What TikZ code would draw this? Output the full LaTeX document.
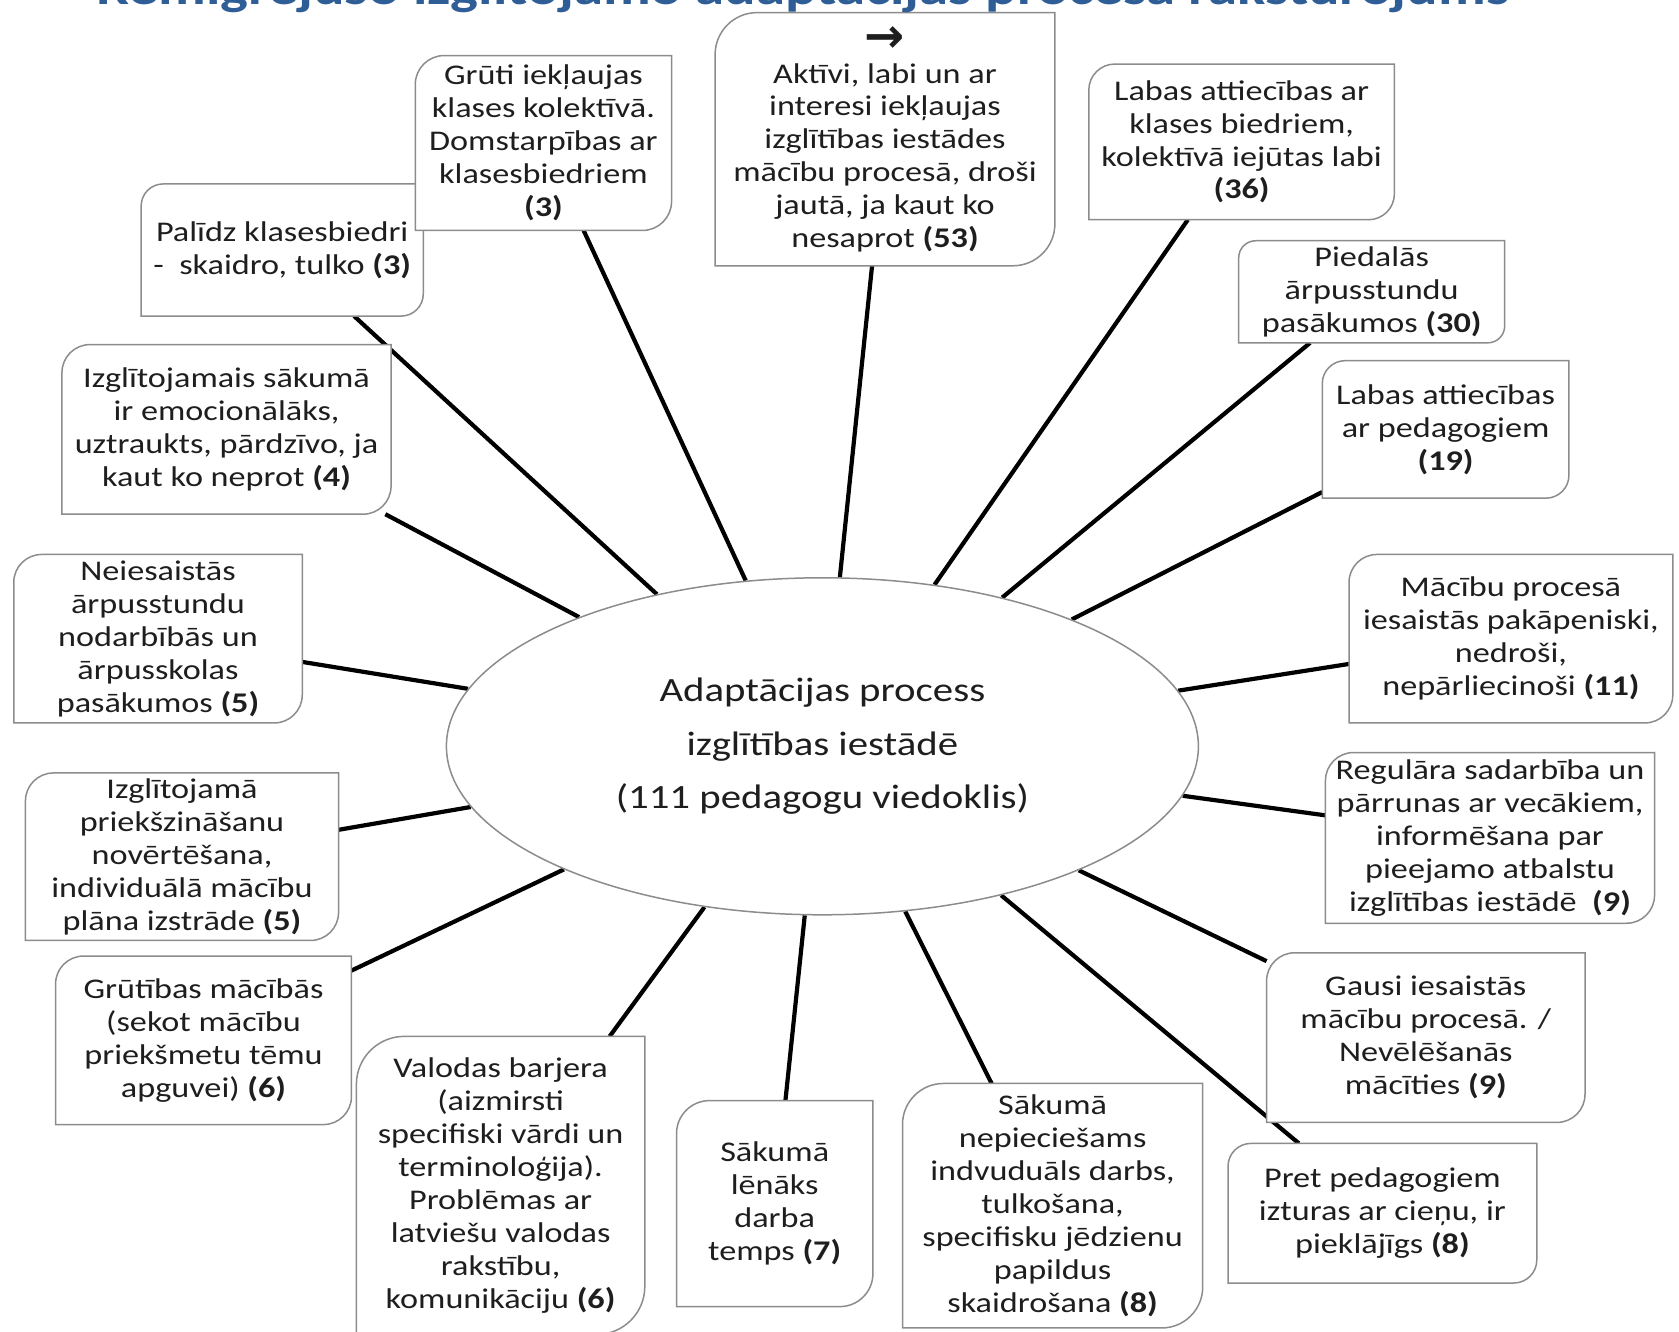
\documentclass[tikz,border=0pt]{standalone}
\usepackage{fontspec}
\setmainfont{Carlito}[FakeStretch=1.2]
\newfontfamily\arrowfont{DejaVu Sans}
\usetikzlibrary{shapes.geometric}
\pgfdeclarelayer{bg}
\pgfsetlayers{bg,main}
\definecolor{titleblue}{HTML}{2F5D96}
\definecolor{boxline}{HTML}{8C8C8C}
\definecolor{shadowgray}{HTML}{BDBDBD}
\definecolor{txtcol}{HTML}{1E1E1E}
\tikzset{
  box/.style={shape=rectangle, inner sep=0pt, align=center, text=txtcol,
    font=\fontsize{28.5}{32.9}\selectfont},
  conn/.style={line width=4.2pt, black},
  centre/.style={ellipse, draw=boxline, line width=1.5pt, fill=white, inner sep=0pt,
    minimum width=752pt, minimum height=337pt, align=center, text=txtcol,
    font=\fontsize{34}{53.5}\selectfont},
  boxborder/.style={draw=boxline, line width=1.5pt, fill=white},
  boxshadow/.style={fill=shadowgray}
}
\newcommand\dpath[2]{([xshift=#2pt]#1.north west) -- (#1.north east) -- ([yshift=#2pt]#1.south east) arc[start angle=0,end angle=-90,radius=#2pt] -- (#1.south west) -- ([yshift=-#2pt]#1.north west) arc[start angle=180,end angle=90,radius=#2pt] -- cycle}
\newcommand\dbox[2]{%
  \fill[boxshadow, shift={(1.5pt,-3.5pt)}] \dpath{#1}{#2};
  \path[boxborder] \dpath{#1}{#2};}
\begin{document}
\begin{tikzpicture}[x=1pt,y=-1pt]
\useasboundingbox (0,0) rectangle (1679,1332);
\node[font=\fontsize{49}{51}\bfseries\selectfont, text=titleblue, anchor=base] (T) at (803,5) {Remigrējušo izglītojamo adaptācijas procesa raksturojums};

\node[centre] (E0) at (822.4,746.3) {Adaptācijas process\\izglītības iestādē\\(111 pedagogu viedoklis)};

\node[box, minimum width=281.7pt, minimum height=131.7pt] (A) at (282.2,250.0) {Palīdz klasesbiedri\\-\ \ skaidro, tulko \textbf{(3)}};
\node[box, minimum width=255.9pt, minimum height=174.5pt] (B) at (543.4,143.0) {Grūti iekļaujas\\klases kolektīvā.\\Domstarpības ar\\klasesbiedriem\\\textbf{(3)}};
\node[box, minimum width=339.4pt, minimum height=252.8pt] (C) at (885.0,139.2) {\raisebox{-4pt}{\arrowfont\bfseries\fontsize{48}{48}\selectfont →}\\[2pt]Aktīvi, labi un ar\\interesi iekļaujas\\izglītības iestādes\\mācību procesā, droši\\jautā, ja kaut ko\\nesaprot \textbf{(53)}};
\node[box, minimum width=305.2pt, minimum height=155.3pt] (D) at (1241.6,141.9) {Labas attiecības ar\\klases biedriem,\\kolektīvā iejūtas labi\\\textbf{(36)}};
\node[box, minimum width=265.6pt, minimum height=101.7pt] (E) at (1371.7,291.8) {Piedalās\\ārpusstundu\\pasākumos \textbf{(30)}};
\node[box, minimum width=246.3pt, minimum height=137.1pt] (F) at (1445.6,429.4) {Labas attiecības\\ar pedagogiem\\\textbf{(19)}};
\node[box, minimum width=323.4pt, minimum height=168.1pt] (G) at (1510.9,638.7) {Mācību procesā\\iesaistās pakāpeniski,\\nedroši,\\nepārliecinoši \textbf{(11)}};
\node[box, minimum width=328.7pt, minimum height=170.3pt] (H) at (1490.0,837.9) {Regulāra sadarbība un\\pārrunas ar vecākiem,\\informēšana par\\pieejamo atbalstu\\izglītības iestādē\ \ \textbf{(9)}};
\node[box, minimum width=318.0pt, minimum height=169.2pt] (I) at (1425.8,1037.6) {Gausi iesaistās\\mācību procesā. /\\Nevēlēšanās\\mācīties \textbf{(9)}};
\node[box, minimum width=308.4pt, minimum height=139.2pt] (J) at (1382.4,1213.2) {Pret pedagogiem\\izturas ar cieņu, ir\\pieklājīgs \textbf{(8)}};
\node[box, minimum width=299.8pt, minimum height=244.1pt] (K) at (1052.6,1205.7) {Sākumā\\nepieciešams\\indvuduāls darbs,\\tulkošana,\\specifisku jēdzienu\\papildus\\skaidrošana \textbf{(8)}};
\node[box, minimum width=196.0pt, minimum height=205.6pt] (L) at (774.7,1203.6) {Sākumā\\lēnāks\\darba\\temps \textbf{(7)}};
\node[box, minimum width=288.0pt, minimum height=297.7pt] (M) at (500.6,1185.4) {Valodas barjera\\(aizmirsti\\specifiski vārdi un\\terminoloģija).\\Problēmas ar\\latviešu valodas\\rakstību,\\komunikāciju \textbf{(6)}};
\node[box, minimum width=295.5pt, minimum height=168.1pt] (N) at (203.5,1040.3) {Grūtības mācībās\\(sekot mācību\\priekšmetu tēmu\\apguvei) \textbf{(6)}};
\node[box, minimum width=312.7pt, minimum height=167.1pt] (O) at (182.0,856.7) {Izglītojamā\\priekšzināšanu\\novērtēšana,\\individuālā mācību\\plāna izstrāde \textbf{(5)}};
\node[box, minimum width=288.1pt, minimum height=168.1pt] (P) at (158.0,638.7) {Neiesaistās\\ārpusstundu\\nodarbībās un\\ārpusskolas\\pasākumos \textbf{(5)}};
\node[box, minimum width=328.7pt, minimum height=169.2pt] (Q) at (226.5,429.4) {Izglītojamais sākumā\\ir emocionālāks,\\uztraukts, pārdzīvo, ja\\kaut ko neprot \textbf{(4)}};

\begin{pgfonlayer}{bg}
  \foreach \n in {A,B,C,D,E,F,G,H,I,J,K,L,M,N,O,P,Q}
    \draw[conn] (E0) -- (\n);
  \fill[shadowgray, shift={(1.5pt,-3.5pt)}] (E0.center) ellipse[x radius=376pt, y radius=168.5pt];
  \dbox{A}{22}
  \dbox{B}{29}
  \dbox{C}{42}
  \dbox{D}{26}
  \dbox{E}{17}
  \dbox{F}{23}
  \dbox{G}{28}
  \dbox{H}{28}
  \dbox{I}{28}
  \dbox{J}{23}
  \dbox{K}{41}
  \dbox{L}{33}
  \dbox{M}{48}
  \dbox{N}{28}
  \dbox{O}{28}
  \dbox{P}{28}
  \dbox{Q}{28}
\end{pgfonlayer}
\end{tikzpicture}
\end{document}
